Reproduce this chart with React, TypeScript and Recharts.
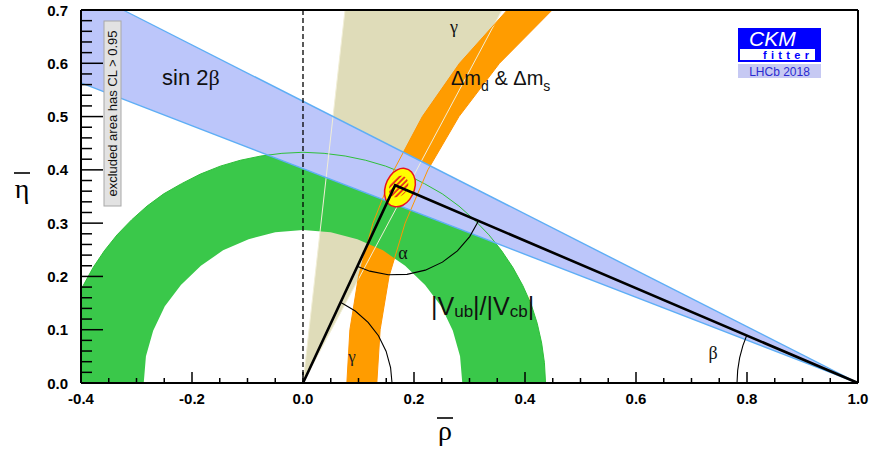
import React from 'react';
import { ComposedChart, XAxis, YAxis, Scatter, Curve } from 'recharts';

// ---------------- data (rho-bar, eta-bar coordinates) ----------------
const rhoMajor = [-0.4, -0.2, 0.0, 0.2, 0.4, 0.6, 0.8, 1.0];
const rhoMinor = [-0.35, -0.3, -0.25, -0.15, -0.1, -0.05, 0.05, 0.1, 0.15, 0.25, 0.3, 0.35, 0.45, 0.5, 0.55, 0.65, 0.7, 0.75, 0.85, 0.9, 0.95];
const etaMajor = [0.0, 0.1, 0.2, 0.3, 0.4, 0.5, 0.6, 0.7];
const etaMinor = [0.02, 0.04, 0.06, 0.08, 0.12, 0.14, 0.16, 0.18, 0.22, 0.24, 0.26, 0.28, 0.32, 0.34, 0.36, 0.38, 0.42, 0.44, 0.46, 0.48, 0.52, 0.54, 0.56, 0.58, 0.62, 0.64, 0.66, 0.68];

type P = [number, number];

// |Vub|/|Vcb| ring (outer edge right -> left, inner edge left -> right)
const vubOuter: P[] = [[0.437, 0], [0.435, 0.038], [0.430, 0.075], [0.422, 0.112], [0.411, 0.148], [0.396, 0.183], [0.378, 0.217], [0.358, 0.248], [0.335, 0.278], [0.309, 0.306], [0.281, 0.332], [0.251, 0.355], [0.219, 0.374], [0.185, 0.392], [0.149, 0.407], [0.113, 0.418], [0.076, 0.426], [0.038, 0.431], [0, 0.433], [-0.038, 0.431], [-0.076, 0.426], [-0.113, 0.418], [-0.149, 0.407], [-0.185, 0.392], [-0.219, 0.374], [-0.251, 0.355], [-0.281, 0.332], [-0.309, 0.306], [-0.335, 0.278], [-0.358, 0.248], [-0.378, 0.217], [-0.396, 0.183], [-0.4, 0.176]];
const vubInner: P[] = [[-0.287, 0], [-0.283, 0.050], [-0.270, 0.098], [-0.249, 0.144], [-0.220, 0.184], [-0.184, 0.220], [-0.144, 0.249], [-0.098, 0.270], [-0.050, 0.283], [0, 0.287], [0.050, 0.283], [0.098, 0.270], [0.144, 0.249], [0.184, 0.220], [0.220, 0.184], [0.249, 0.144], [0.270, 0.098], [0.283, 0.050], [0.287, 0]];
const leftCorner: P[] = [[-0.4, 0]];

// gamma wedge
const gammaLeftEdge: P[] = [[0, 0], [0.0757, 0.7]];
const gammaRightEdge: P[] = [[0, 0], [0.3586, 0.7]];

// Delta m_d & Delta m_s band
const dmLeft: P[] = [[0.079, 0], [0.0845, 0.1], [0.100, 0.2], [0.126, 0.3], [0.164, 0.4], [0.215, 0.5], [0.282, 0.6], [0.368, 0.7]];
const dmRight: P[] = [[0.133, 0], [0.139, 0.1], [0.155, 0.2], [0.184, 0.3], [0.225, 0.4], [0.281, 0.5], [0.354, 0.6], [0.449, 0.7]];

// sin 2beta band
const s2bUpper: P[] = [[1.0, 0], [-0.324, 0.7]];
const s2bLower: P[] = [[1.0, 0], [-0.4, 0.5634]];
const s2bCorner: P[] = [[-0.4, 0.7]];

// global fit: 95% region and 68% (hatched) region
const fit95: P[] = [[0.1838, 0.4043], [0.1964, 0.3977], [0.2036, 0.3809], [0.2018, 0.3621], [0.1928, 0.3433], [0.1802, 0.3321], [0.1658, 0.3293], [0.1514, 0.3358], [0.1459, 0.3527], [0.1477, 0.3715], [0.1568, 0.3902], [0.1694, 0.4015]];
const fit68: P[] = [[0.1820, 0.3902], [0.1910, 0.3790], [0.1892, 0.3621], [0.1766, 0.3490], [0.1604, 0.3471], [0.1532, 0.3583], [0.1568, 0.3771], [0.1676, 0.3884]];

// unitarity triangle and angle markers
const triangle: P[] = [[0, 0], [0.166, 0.371], [1.0, 0]];
const alphaArc: P[] = [[0.3166, 0.3049], [0.3004, 0.2747], [0.2782, 0.2480], [0.2512, 0.2268], [0.2204, 0.2118], [0.1874, 0.2039], [0.1535, 0.2032], [0.1202, 0.2099], [0.0986, 0.2188]];
const gammaArc: P[] = [[0.0683, 0.1510], [0.0942, 0.1351], [0.1173, 0.1139], [0.1360, 0.0886], [0.1497, 0.0598], [0.1578, 0.0291], [0.1604, 0]];
const betaArc: P[] = [[0.7820, 0], [0.7832, 0.0236], [0.7867, 0.0473], [0.7926, 0.0702], [0.7996, 0.0895]];
const zeroLine: P[] = [[0, 0], [0, 0.7]];
const plotCorner: P[] = [[-0.4, 0.7]];

// ---------------- helpers ----------------
const pts = (a: P[]) => a.map(([x, y]) => ({ x, y }));
const rhoAll = [...rhoMajor, ...rhoMinor].sort((a, b) => a - b);
const etaAll = [...etaMajor, ...etaMinor].sort((a, b) => a - b);
const near = (v: number, arr: number[]) => arr.some((m) => Math.abs(m - v) < 1e-6);

const FONT = '"Liberation Sans", Arial, Helvetica, sans-serif';
const SERIF = '"Liberation Serif", "Times New Roman", serif';

const GREEN = '#3ac84a';
const TAN = '#dfdcb9';
const ORANGE = '#ff9c00';
const BLUE = '#bcc6fa';
const BLUE_EDGE = '#5eaef5';

const noShape = () => <g />;
const fillShape = (fill: string, stroke = 'none', sw = 1, type: any = 'linearClosed') => (p: any) => (
  <Curve points={p.points} type={type} fill={fill} stroke={stroke} strokeWidth={sw} />
);
const lineShape = (stroke: string, sw: number, dash?: string) => (p: any) => (
  <Curve points={p.points} type="linear" fill="none" stroke={stroke} strokeWidth={sw} strokeDasharray={dash} />
);
const hatchShape = (p: any) => (
  <g>
    <defs>
      <pattern id="fitHatch" patternUnits="userSpaceOnUse" width={3.8} height={3.8} patternTransform="rotate(45)">
        <rect x={0} y={0} width={3.8} height={3.8} fill="#ffff00" />
        <line x1={1} y1={0} x2={1} y2={3.8} stroke="#e8141e" strokeWidth={1.6} />
      </pattern>
    </defs>
    <Curve points={p.points} type="basisClosed" fill="url(#fitHatch)" stroke="none" />
  </g>
);

function BottomTick(p: any) {
  const { x, y, payload } = p;
  const major = near(payload.value, rhoMajor);
  return (
    <g>
      <line x1={x} x2={x} y1={y} y2={y - (major ? 11 : 5)} stroke="#000" strokeWidth={1.5} />
      {major && (
        <text x={x} y={y + 21} textAnchor="middle" fontFamily={FONT} fontWeight="bold" fontSize={15} fill="#000">
          {payload.value.toFixed(1)}
        </text>
      )}
    </g>
  );
}
function TopTick(p: any) {
  const { x, y, payload } = p;
  const major = near(payload.value, rhoMajor);
  return <line x1={x} x2={x} y1={y} y2={y + (major ? 11 : 5)} stroke="#000" strokeWidth={1.5} />;
}
function LeftTick(p: any) {
  const { x, y, payload } = p;
  const major = near(payload.value, etaMajor);
  return (
    <g>
      <line x1={x} x2={x + (major ? 22 : 11)} y1={y} y2={y} stroke="#000" strokeWidth={1.5} />
      {major && (
        <text x={x - 13} y={y + 5.5} textAnchor="end" fontFamily={FONT} fontWeight="bold" fontSize={15} fill="#000">
          {payload.value.toFixed(1)}
        </text>
      )}
    </g>
  );
}
function RightTick(p: any) {
  const { x, y, payload } = p;
  const major = near(payload.value, etaMajor);
  return <line x1={x} x2={x - (major ? 22 : 11)} y1={y} y2={y} stroke="#000" strokeWidth={1.5} />;
}

// annotation layer, anchored at the plot's top-left corner (rho=-0.4, eta=0.7)
function Annotations(p: any) {
  const dx = p.cx - 81;
  const dy = p.cy - 10;
  return (
    <g transform={`translate(${dx},${dy})`} fontFamily={FONT}>
      <rect x={104} y={21} width={17} height={185} fill="#e2e2e2" stroke="#a8a8a8" strokeWidth={1} />
      <text transform="translate(117,113.5) rotate(-90)" textAnchor="middle" fontSize={13} fill="#111">
        excluded area has CL &gt; 0.95
      </text>

      <text x={162} y={85} fontSize={22} fill="#111">
        sin 2<tspan fontFamily={SERIF}>β</tspan>
      </text>
      <text x={454} y={33} textAnchor="middle" fontSize={18} fontFamily={SERIF} fill="#111">γ</text>
      <text x={451} y={85} fontSize={20} fill="#111">
        Δm<tspan dy={6} fontSize={14}>d</tspan>
        <tspan dy={-6}> &amp; Δm</tspan>
        <tspan dy={6} fontSize={14}>s</tspan>
      </text>
      <text x={431} y={315} fontSize={25} fill="#111">
        |V<tspan dy={2} fontSize={17}>ub</tspan>
        <tspan dy={-2}>|/|V</tspan>
        <tspan dy={2} fontSize={17}>cb</tspan>
        <tspan dy={-2}>|</tspan>
      </text>
      <text x={403} y={259} textAnchor="middle" fontSize={18} fontFamily={SERIF} fill="#111">α</text>
      <text x={352} y={362} textAnchor="middle" fontSize={17} fontFamily={SERIF} fill="#222">γ</text>
      <text x={713} y={359} textAnchor="middle" fontSize={18} fontFamily={SERIF} fill="#111">β</text>

      {/* CKMfitter logo */}
      <rect x={738} y={28} width={83} height={34} fill="#0000ff" />
      <rect x={740} y={49} width={75} height={11} fill="#ffffff" />
      <text x={749} y={46} fontSize={21} fontStyle="italic" fill="#ffffff">CKM</text>
      <text x={763} y={58.5} fontSize={11} fontWeight="bold" fill="#0000ff" letterSpacing={4.3}>fitter</text>
      <rect x={738} y={64} width={83} height={14} fill="#c6c9f3" />
      <text x={779.5} y={75.5} textAnchor="middle" fontSize={12} fill="#2a2ad0">LHCb 2018</text>

      {/* axis titles */}
      <text x={445} y={440} textAnchor="middle" fontSize={28} fontFamily={SERIF} fill="#000">ρ</text>
      <line x1={437} x2={453} y1={418} y2={418} stroke="#000" strokeWidth={1.6} />
      <text x={22} y={198} textAnchor="middle" fontSize={28} fontFamily={SERIF} fill="#000">η</text>
      <line x1={14} x2={30} y1={173} y2={173} stroke="#000" strokeWidth={1.6} />
    </g>
  );
}

const frame = { stroke: '#000', strokeWidth: 2 };

export default function App() {
  return (
    <div style={{ position: 'absolute', left: 0, top: 0, width: 871, height: 449, background: '#fff' }}>
      <ComposedChart width={871} height={449} margin={{ top: 9, right: 12, bottom: 65, left: 80 }}>
        {/* fills */}
        <Scatter data={pts([...gammaLeftEdge, ...gammaRightEdge.slice(1).reverse()])} shape={noShape} line={fillShape(TAN)} isAnimationActive={false} />
        <Scatter data={pts([...dmLeft, ...dmRight.slice().reverse()])} shape={noShape} line={fillShape(ORANGE)} isAnimationActive={false} />
        <Scatter data={pts([...vubOuter, ...leftCorner, ...vubInner])} shape={noShape} line={fillShape(GREEN)} isAnimationActive={false} />
        <Scatter data={pts([...s2bUpper, ...s2bCorner, s2bLower[1]])} shape={noShape} line={fillShape(BLUE)} isAnimationActive={false} />

        {/* contour outlines */}
        <Scatter data={pts(vubOuter)} shape={noShape} line={lineShape('#2fbf3a', 1)} isAnimationActive={false} />
        <Scatter data={pts(gammaLeftEdge)} shape={noShape} line={lineShape('#f1eed6', 1)} isAnimationActive={false} />
        <Scatter data={pts(gammaRightEdge)} shape={noShape} line={lineShape('#f1eed6', 1)} isAnimationActive={false} />
        <Scatter data={pts(dmLeft)} shape={noShape} line={lineShape('#ff9500', 1)} isAnimationActive={false} />
        <Scatter data={pts(dmRight)} shape={noShape} line={lineShape('#ff9500', 1)} isAnimationActive={false} />
        <Scatter data={pts(s2bUpper)} shape={noShape} line={lineShape(BLUE_EDGE, 1.4)} isAnimationActive={false} />
        <Scatter data={pts(s2bLower)} shape={noShape} line={lineShape(BLUE_EDGE, 1.4)} isAnimationActive={false} />

        {/* global fit */}
        <Scatter data={pts(fit95)} shape={noShape} line={fillShape('#ffff00', '#e8141e', 1.5, 'basisClosed')} isAnimationActive={false} />
        <Scatter data={pts(fit68)} shape={noShape} line={hatchShape} isAnimationActive={false} />

        {/* rho = 0 line */}
        <Scatter data={pts(zeroLine)} shape={noShape} line={lineShape('#000', 1.3, '5 3')} isAnimationActive={false} />

        {/* triangle and angles */}
        <Scatter data={pts(triangle)} shape={noShape} line={lineShape('#000', 2.6)} isAnimationActive={false} />
        <Scatter data={pts(alphaArc)} shape={noShape} line={lineShape('#000', 1.1)} isAnimationActive={false} />
        <Scatter data={pts(gammaArc)} shape={noShape} line={lineShape('#000', 1.1)} isAnimationActive={false} />
        <Scatter data={pts(betaArc)} shape={noShape} line={lineShape('#000', 1.1)} isAnimationActive={false} />

        {/* annotations */}
        <Scatter data={pts(plotCorner)} shape={(p: any) => <Annotations {...p} />} isAnimationActive={false} />

        {/* axes (frame with inward ticks) */}
        <XAxis xAxisId={0} dataKey="x" type="number" domain={[-0.4, 1]} ticks={rhoAll} interval={0} height={1}
          tickSize={0} tickMargin={0} tickLine={false} tick={(p: any) => <BottomTick {...p} />} axisLine={frame} zIndex={1000} />
        <XAxis xAxisId="top" orientation="top" dataKey="x" type="number" domain={[-0.4, 1]} ticks={rhoAll} interval={0} height={1}
          tickSize={0} tickMargin={0} tickLine={false} tick={(p: any) => <TopTick {...p} />} axisLine={frame} zIndex={1000} />
        <YAxis yAxisId={0} dataKey="y" type="number" domain={[0, 0.7]} ticks={etaAll} interval={0} width={1}
          tickSize={0} tickMargin={0} tickLine={false} tick={(p: any) => <LeftTick {...p} />} axisLine={frame} zIndex={1000} />
        <YAxis yAxisId="right" orientation="right" dataKey="y" type="number" domain={[0, 0.7]} ticks={etaAll} interval={0} width={1}
          tickSize={0} tickMargin={0} tickLine={false} tick={(p: any) => <RightTick {...p} />} axisLine={frame} zIndex={1000} />
      </ComposedChart>
    </div>
  );
}
